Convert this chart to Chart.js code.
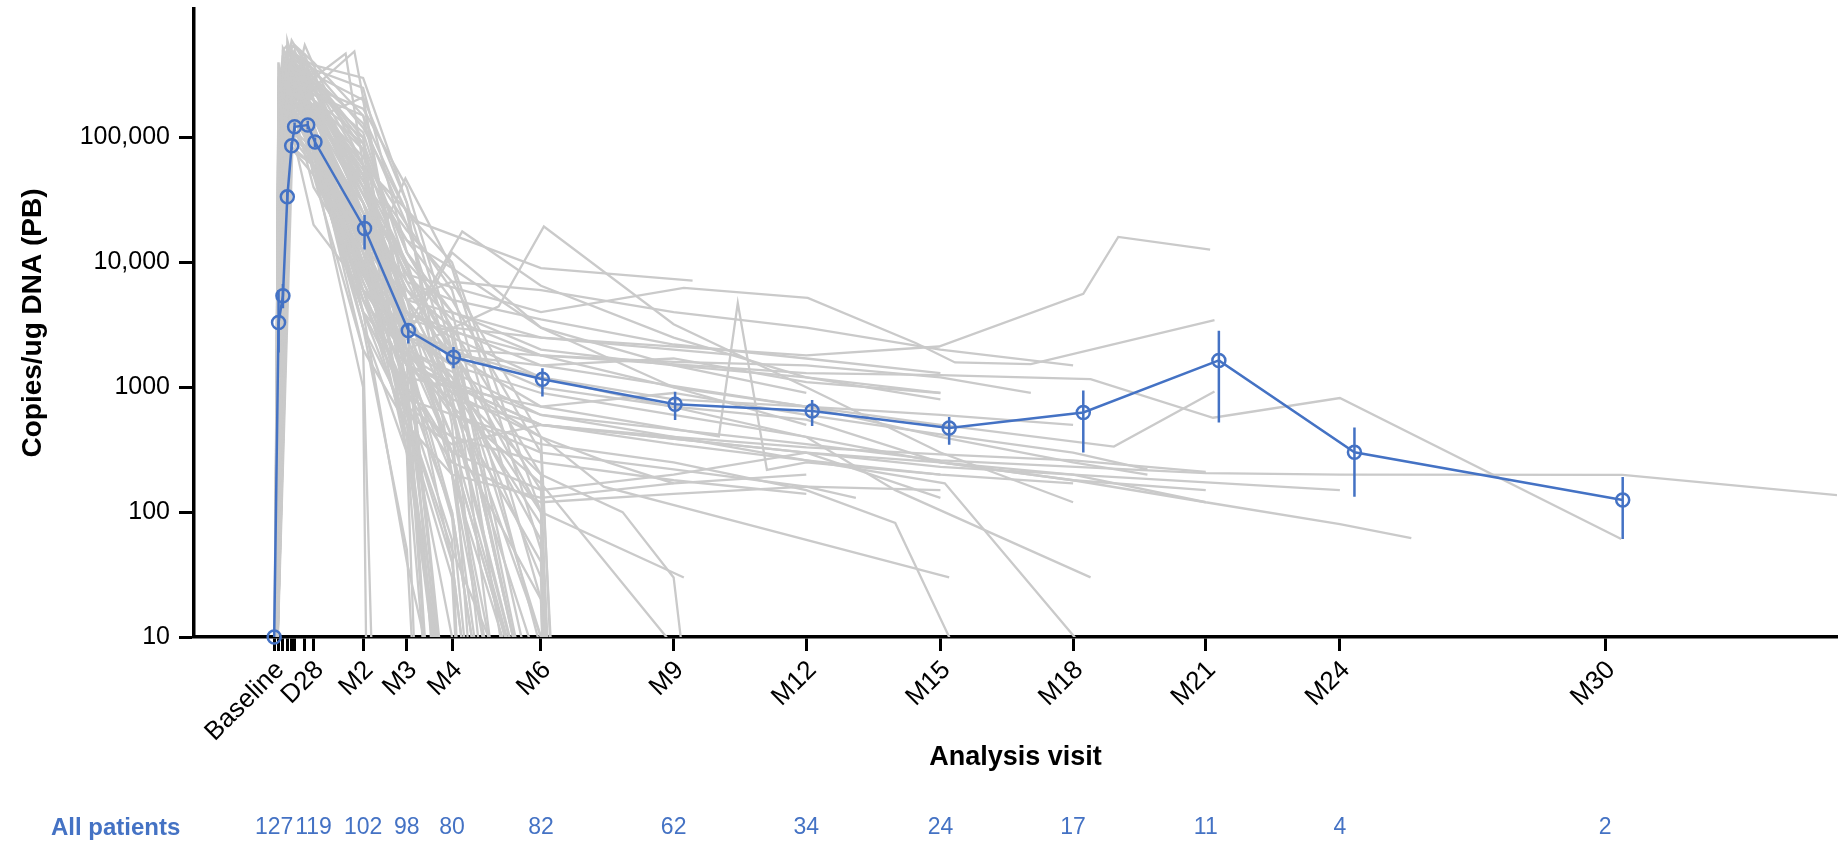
<!DOCTYPE html>
<html lang="en">
<head>
    <meta charset="UTF-8">
    <title>Copies/ug DNA by analysis visit</title>
    <script src="https://cdn.jsdelivr.net/npm/chart.js"></script>
    <style>
      body { margin: 0; background: #fff; }
      canvas { display: block; }
    </style>
</head>
<body>
    <canvas id="pkChart" width="1846" height="841"></canvas>

    <script>
      // visits on the x axis (study day)
      const visitDays = [1, 4, 7, 10, 13, 15, 22, 28, 62, 92, 123, 184, 275, 366, 458, 549, 640, 732, 914];
      const visitLabels = ["Baseline", "", "", "", "", "", "", "D28", "M2", "M3", "M4", "M6", "M9", "M12", "M15", "M18", "M21", "M24", "M30"];
      const patientCounts = [127, null, null, null, null, null, null, 119, 102, 98, 80, 82, 62, 34, 24, 17, 11, 4, 2];

      const yTickValues = [10, 100, 1000, 10000, 100000];
      const yTickLabels = ["10", "100", "1000", "10,000", "100,000"];

      // mean and error bars
      const meanDays = [1, 4, 7, 10, 13, 15, 24, 29, 63, 93, 124, 185, 276, 370, 464, 556, 649, 742, 926];
      const meanValues = [10, 3300, 5400, 33500, 86000, 122000, 126000, 92000, 18700, 2850, 1740, 1160, 730, 645, 471, 628, 1640, 302, 125];
      const errLow = [10, 1900, 4300, 30000, 80000, 112000, 116000, 84000, 12700, 2240, 1420, 843, 546, 490, 346, 300, 522, 133, 61];
      const errHigh = [10, 6000, 6700, 37000, 92000, 132000, 136000, 100000, 24000, 3240, 2100, 1420, 920, 790, 577, 942, 2840, 476, 191];

      // individual patients [day, value]
      const patientLines = [
        [[1,1],[4,400000],[7,180000],[15,90000],[28,20000],[62,6000],[92,400],[123,1]],
        [[1,1],[7,520000],[13,380000],[22,200000],[28,150000],[62,30000],[92,2000],[123,40],[140,1]],
        [[1,1],[4,60000],[10,450000],[15,300000],[28,80000],[62,4000],[92,40],[123,1]],
        [[1,1],[7,250000],[13,600000],[22,400000],[28,300000],[62,90000],[92,2000],[123,1]],
        [[1,1],[4,9000],[7,120000],[13,350000],[28,250000],[56,490000],[92,3000],[123,1]],
        [[1,1],[10,300000],[15,500000],[28,200000],[62,12000],[92,300],[123,1]],
        [[1,1],[4,3000],[7,90000],[10,280000],[22,350000],[28,120000],[62,5000],[92,900],[123,1]],
        [[1,5],[4,150000],[13,420000],[22,250000],[28,90000],[62,2000],[70,1]],
        [[1,1],[7,30000],[13,200000],[22,550000],[28,380000],[62,60000],[92,800],[110,1]],
        [[1,1],[4,200000],[10,350000],[15,150000],[28,40000],[62,9000],[92,600],[123,50],[184,1]],
        [[1,1],[7,400000],[15,200000],[28,100000],[62,25000],[92,3000],[123,300],[184,1]],
        [[1,1],[10,150000],[22,300000],[28,200000],[62,40000],[92,10000],[123,1000],[184,10],[190,1]],
        [[1,2],[4,80000],[7,330000],[15,260000],[28,180000],[62,70000],[92,20000],[123,1500],[184,1]],
        [[1,1],[13,450000],[22,300000],[28,220000],[62,150000],[92,5000],[123,200],[160,1]],
        [[1,1],[7,60000],[13,180000],[22,160000],[28,70000],[62,20000],[92,1000],[123,1]],
        [[1,1],[4,100000],[10,500000],[22,260000],[28,140000],[62,210000],[92,30000],[123,200],[150,1]],
        [[1,1],[7,200000],[15,350000],[28,100000],[62,3000],[92,50],[100,1]],
        [[1,1],[4,30000],[7,150000],[13,250000],[22,120000],[28,50000],[62,8000],[92,2000],[123,100],[150,1]],
        [[1,1],[10,600000],[13,450000],[28,300000],[62,100000],[92,1500],[110,1]],
        [[1,1],[4,5000],[7,40000],[10,100000],[15,200000],[28,90000],[62,15000],[92,400],[120,1]],
        [[1,1],[7,350000],[22,200000],[28,150000],[62,15000],[92,1500],[123,200],[184,1]],
        [[1,1],[13,300000],[15,400000],[28,250000],[62,30000],[92,6000],[123,2000],[184,100],[190,1]],
        [[1,1],[4,250000],[7,450000],[15,280000],[28,60000],[62,1000],[65,1]],
        [[1,1],[10,80000],[15,150000],[22,220000],[28,150000],[62,50000],[92,4000],[123,800],[184,5],[186,1]],
        [[1,1],[7,100000],[13,500000],[28,350000],[62,20000],[92,4000],[123,600],[184,1]],
        [[1,1],[4,20000],[10,250000],[22,450000],[28,200000],[62,80000],[92,12000],[123,3000],[184,200],[190,1]],
        [[1,1],[13,120000],[22,80000],[28,60000],[62,10000],[92,2000],[123,300],[160,1]],
        [[1,1],[7,500000],[10,550000],[15,400000],[28,280000],[62,60000],[92,3500],[115,1]],
        [[1,1],[4,40000],[7,200000],[22,300000],[28,240000],[62,110000],[92,9000],[123,700],[184,40],[188,1]],
        [[1,1],[10,400000],[22,180000],[28,90000],[62,7000],[92,1200],[123,300],[184,1]],
        [[1,3],[4,130000],[15,300000],[28,120000],[62,20000],[92,500],[123,1]],
        [[1,1],[7,80000],[13,260000],[22,350000],[28,250000],[62,45000],[92,15000],[123,5000],[184,300],[195,1]],
        [[1,1],[4,350000],[10,200000],[22,100000],[28,50000],[62,2000],[92,500],[123,30],[130,1]],
        [[1,1],[7,450000],[15,550000],[28,400000],[62,150000],[92,25000],[123,500],[140,1]],
        [[1,1],[10,50000],[15,120000],[22,250000],[28,300000],[62,80000],[92,600],[123,40],[140,1]],
        [[1,1],[4,150000],[13,300000],[28,200000],[62,4000],[92,1500],[123,700],[184,1]],
        [[1,1],[7,20000],[13,90000],[22,150000],[28,100000],[62,30000],[92,3000],[123,400],[184,20],[188,1]],
        [[1,1],[10,380000],[15,300000],[28,160000],[62,45000],[92,9000],[123,2000],[184,10],[186,1]],
        [[1,1],[4,100000],[7,400000],[22,200000],[28,90000],[62,12000],[92,1500],[123,90],[140,1]],
        [[1,1],[13,550000],[22,450000],[28,320000],[62,200000],[92,2500],[123,300],[165,1]],
        [[1,1],[7,70000],[15,250000],[28,130000],[62,6000],[92,800],[123,60],[130,1]],
        [[1,1],[10,120000],[22,400000],[28,260000],[62,50000],[92,700],[123,10],[125,1]],
        [[1,1],[4,20000],[7,300000],[13,450000],[28,200000],[62,25000],[92,5000],[123,1000],[184,80],[190,1]],
        [[1,1],[13,220000],[28,120000],[62,3000],[92,300],[110,1]],
        [[1,1],[7,160000],[15,450000],[28,300000],[50,470000],[62,60000],[92,300],[100,1]],
        [[1,1],[10,280000],[28,200000],[62,100000],[92,1000],[123,100],[150,1]],
        [[1,1],[4,220000],[13,380000],[22,300000],[28,250000],[62,35000],[92,8000],[123,2000],[184,150],[192,1]],
        [[1,1],[7,180000],[22,420000],[28,350000],[62,250000],[92,12000],[123,3000],[184,1]],
        [[1,1],[10,220000],[28,300000],[62,130000],[92,20000],[123,6000],[184,20],[188,1]],
        [[1,1],[4,60000],[13,350000],[28,280000],[62,80000],[92,7000],[123,1500],[184,1]],
        [[1,1],[7,400000],[22,350000],[28,250000],[62,170000],[92,40000],[123,2500],[170,1]],
        [[1,1],[13,250000],[28,200000],[62,60000],[92,15000],[123,9000],[184,50],[190,1]],
        [[1,1],[10,90000],[22,200000],[28,180000],[62,35000],[92,6000],[123,3000],[184,2],[186,1]],
        [[1,1],[4,300000],[10,500000],[28,350000],[62,120000],[92,25000],[123,10000],[184,100],[192,1]],
        [[1,1],[7,50000],[15,220000],[28,140000],[62,25000],[92,5000],[123,1800],[184,1]],
        [[1,1],[13,480000],[28,380000],[62,300000],[92,30000],[123,2000],[160,1]],
        [[1,1],[10,170000],[28,120000],[62,18000],[92,3500],[123,1200],[184,60],[189,1]],
        [[1,1],[4,90000],[7,260000],[28,180000],[62,90000],[92,12000],[123,4000],[184,8],[186,1]],
        [[1,1],[15,330000],[28,240000],[62,40000],[92,2500],[123,400],[184,1]],
        [[1,1],[7,140000],[22,280000],[28,200000],[62,55000],[92,18000],[123,7000],[184,400],[194,1]],
        [[1,1],[10,260000],[28,160000],[62,22000],[92,4000],[123,900],[150,1]],
        [[1,1],[13,140000],[28,100000],[62,14000],[92,2500],[123,1500],[184,30],[188,1]],
        [[1,1],[7,150000],[22,250000],[28,100000],[62,8000],[91,47000],[123,9000],[184,3000],[275,1500],[366,900]],
        [[1,1],[10,200000],[28,150000],[62,20000],[92,3000],[130,17700],[184,6500],[275,2500],[366,1200],[458,800]],
        [[1,1],[13,300000],[28,200000],[62,10000],[92,2000],[155,4450],[186,19400],[275,3200],[366,1000],[458,300],[549,120]],
        [[1,1],[10,250000],[28,200000],[62,60000],[100,21000],[184,9000],[288,7150]],
        [[1,1],[13,400000],[28,250000],[62,40000],[92,8000],[184,4000],[282,6240],[367,5190],[441,2260],[468,1580],[520,1535],[646,3450]],
        [[1,1],[7,100000],[22,300000],[28,200000],[62,30000],[92,5000],[184,2500],[366,1800],[457,2120],[556,5600],[580,16000],[643,12650]],
        [[1,1],[13,200000],[28,120000],[62,15000],[92,4000],[184,1500],[366,700],[458,500],[577,335],[646,925]],
        [[1,1],[10,180000],[28,100000],[62,12000],[92,3500],[184,1800],[366,1300],[458,1250],[561,1160],[645,570],[732,820],[925,61]],
        [[1,1],[10,150000],[28,100000],[62,10000],[92,2000],[184,600],[366,350],[458,260],[640,205],[732,200],[926,199],[1073,137]],
        [[1,1],[7,200000],[28,90000],[62,8000],[92,1500],[184,500],[366,300],[458,230],[549,200],[732,150]],
        [[1,1],[13,160000],[28,80000],[62,9000],[92,2500],[184,1200],[366,400],[427,150],[561,30]],
        [[1,1],[7,120000],[28,70000],[62,5000],[92,1800],[184,400],[227,160],[464,30]],
        [[1,1],[10,90000],[28,60000],[62,6000],[92,2000],[123,1200],[184,100],[282,30]],
        [[1,1],[10,160000],[28,90000],[62,8000],[92,1500],[184,600],[275,400],[366,260],[461,170],[550,10],[555,1]],
        [[1,1],[13,250000],[28,150000],[62,20000],[92,3000],[184,700],[306,404],[319,4730],[339,218],[366,250],[458,200]],
        [[1,1],[7,80000],[22,200000],[28,150000],[62,20000],[92,3000],[123,1500],[184,900],[275,600],[366,400],[458,250],[549,180],[640,150]],
        [[1,1],[10,300000],[28,200000],[62,50000],[92,10000],[123,4000],[184,2000],[275,1500],[366,1200],[458,900]],
        [[1,1],[4,50000],[13,250000],[28,120000],[62,9000],[92,1000],[123,300],[184,150],[275,200],[366,300],[458,130]],
        [[1,1],[7,300000],[28,150000],[62,15000],[92,2500],[123,2000],[184,1800],[275,1600],[366,1500],[458,1200],[520,900]],
        [[1,1],[13,150000],[28,80000],[62,5000],[92,700],[123,400],[184,250],[275,180],[366,140]],
        [[1,1],[10,200000],[22,300000],[28,200000],[62,30000],[92,6000],[123,3000],[184,2500],[275,2000],[320,1800]],
        [[1,1],[4,10000],[7,150000],[28,100000],[62,10000],[92,1500],[123,800],[184,500],[275,350],[366,260],[458,200],[549,170]],
        [[1,1],[13,350000],[28,200000],[62,25000],[92,7000],[123,5000],[184,3500],[275,2200],[366,1700],[458,1300]],
        [[1,1],[7,120000],[22,200000],[28,100000],[62,12000],[92,2000],[123,600],[184,300],[275,220],[366,160],[400,130]],
        [[1,1],[10,180000],[28,90000],[62,7000],[92,1200],[123,1000],[184,700],[275,900],[366,600],[458,420],[549,300],[600,220]],
        [[1,1],[7,250000],[28,120000],[62,20000],[92,2500],[123,12000],[184,3000],[275,1000],[366,500]],
        [[1,1],[13,100000],[28,60000],[62,4000],[92,500],[123,200],[184,130],[275,170],[366,200]],
        [[1,1],[4,70000],[15,300000],[28,150000],[62,18000],[92,4000],[123,2500],[184,1200],[275,800],[366,700],[458,600],[549,500]],
        [[1,1],[10,220000],[28,110000],[62,9000],[92,1800],[123,900],[184,400],[230,250],[275,170]],
        [[1,1],[7,60000],[13,200000],[28,160000],[62,35000],[92,8000],[123,3500],[184,1800],[275,1000],[366,700],[458,400],[549,250],[600,200]],
        [[1,1],[10,90000],[28,50000],[62,6000],[92,900],[123,250],[184,120],[275,140],[366,160],[458,150]],
        [[1,1],[13,280000],[28,170000],[62,16000],[92,5000],[123,7000],[184,6000],[275,4000],[366,3000],[458,2000],[549,1500]],
        [[1,1],[7,180000],[28,100000],[62,10000],[92,3000],[123,1800],[184,1500],[275,1700],[366,1100],[458,900]],
        [[1,1],[10,130000],[28,70000],[62,3000],[92,600],[123,350],[184,500],[275,400],[366,330],[458,290],[549,260],[640,210]],
        [[1,1],[4,80000],[13,300000],[28,150000],[62,40000],[92,5000],[123,1000],[184,200],[240,100],[275,30],[290,1]],
        [[1,1],[7,220000],[28,120000],[62,12000],[92,2000],[123,700],[184,170],[270,10],[272,1]],
        [[1,1],[13,180000],[28,90000],[62,10000],[92,1500],[184,500],[366,300],[458,250],[549,200],[640,120],[732,80],[781,62]],
        [[1,1],[7,90000],[28,60000],[62,4000],[92,800],[184,350],[275,250],[366,150],[427,82],[464,10],[468,1]],
        [[1,1],[13,120000],[28,80000],[62,6000],[92,3000],[123,2000],[184,1000],[275,700],[366,550],[458,250],[549,180],[640,120]]
      ];

      const blue = "#4472C4";
      const grey = "#CACACA";
      Chart.defaults.font.family = '"Liberation Sans", Arial, sans-serif';
      Chart.defaults.color = "#000";

      // error bars as broken line segments
      const errData = [];
      meanDays.forEach(function (d, i) {
        if (errLow[i] === errHigh[i]) return;
        errData.push({ x: d, y: errLow[i] }, { x: d, y: errHigh[i] }, { x: d, y: null });
      });

      const datasets = [
        {
          data: meanDays.map(function (d, i) { return { x: d, y: meanValues[i] }; }),
          borderColor: blue,
          borderWidth: 2.5,
          pointRadius: 6.5,
          pointBorderWidth: 2.5,
          pointBorderColor: blue,
          pointBackgroundColor: "rgba(0,0,0,0)",
          clip: false
        },
        {
          data: errData,
          borderColor: blue,
          borderWidth: 2.5,
          pointRadius: 0,
          spanGaps: false,
          clip: false
        }
      ];
      patientLines.forEach(function (pts) {
        datasets.push({
          data: pts.map(function (p) { return { x: p[0], y: p[1] }; }),
          borderColor: grey,
          borderWidth: 2.3,
          pointRadius: 0
        });
      });

      // "All patients" row under the axis
      const patientRow = {
        id: "patientRow",
        afterDraw(chart) {
          const ctx = chart.ctx;
          const xs = chart.scales.x;
          ctx.save();
          ctx.fillStyle = blue;
          ctx.textBaseline = "middle";
          ctx.font = 'bold 24px "Liberation Sans"';
          ctx.textAlign = "left";
          ctx.fillText("All patients", 51, 828);
          ctx.font = '23px "Liberation Sans"';
          ctx.textAlign = "center";
          visitDays.forEach(function (d, i) {
            if (patientCounts[i] != null) ctx.fillText(String(patientCounts[i]), xs.getPixelForValue(d), 828);
          });
          ctx.restore();
        }
      };

      const ctx = document.getElementById("pkChart").getContext("2d");
      new Chart(ctx, {
        type: "line",
        data: { datasets: datasets },
        plugins: [patientRow],
        options: {
          responsive: false,
          animation: false,
          devicePixelRatio: 1,
          layout: { padding: { top: 9, right: 0, bottom: 0, left: 0 } },
          elements: { line: { tension: 0 } },
          plugins: { legend: { display: false }, tooltip: { enabled: false } },
          scales: {
            x: {
              type: "linear",
              min: -54,
              max: 1073,
              afterBuildTicks: function (scale) {
                scale.ticks = visitDays.map(function (v) { return { value: v }; });
              },
              afterFit: function (scale) { scale.height = 204; },
              ticks: {
                autoSkip: false,
                maxRotation: 45,
                minRotation: 45,
                padding: 4,
                labelOffset: 6,
                font: { size: 26 },
                callback: function (value, index) { return visitLabels[index]; }
              },
              grid: { drawOnChartArea: false, drawTicks: true, tickLength: 14, tickWidth: 3, tickColor: "#000" },
              border: { display: true, color: "#000", width: 3.5 },
              title: {
                display: true,
                text: "Analysis visit",
                font: { size: 27, weight: "bold" },
                padding: { top: 0, bottom: 67 }
              }
            },
            y: {
              type: "logarithmic",
              min: 10,
              max: 1070000,
              afterBuildTicks: function (scale) {
                scale.ticks = yTickValues.map(function (v) { return { value: v }; });
              },
              afterFit: function (scale) {
                scale.width = 194;
                scale.paddingTop = 0;
                scale.paddingBottom = 0;
              },
              ticks: {
                padding: 9,
                font: { size: 25 },
                callback: function (value) {
                  const i = yTickValues.indexOf(value);
                  return i >= 0 ? yTickLabels[i] : "";
                }
              },
              grid: { drawOnChartArea: false, drawTicks: true, tickLength: 15, tickWidth: 3, tickColor: "#000" },
              border: { display: true, color: "#000", width: 3.5 },
              title: {
                display: true,
                text: "Copies/ug DNA (PB)",
                font: { size: 28, weight: "bold" },
                padding: { top: 16, bottom: 0 }
              }
            }
          }
        }
      });
    </script>
</body>
</html>
